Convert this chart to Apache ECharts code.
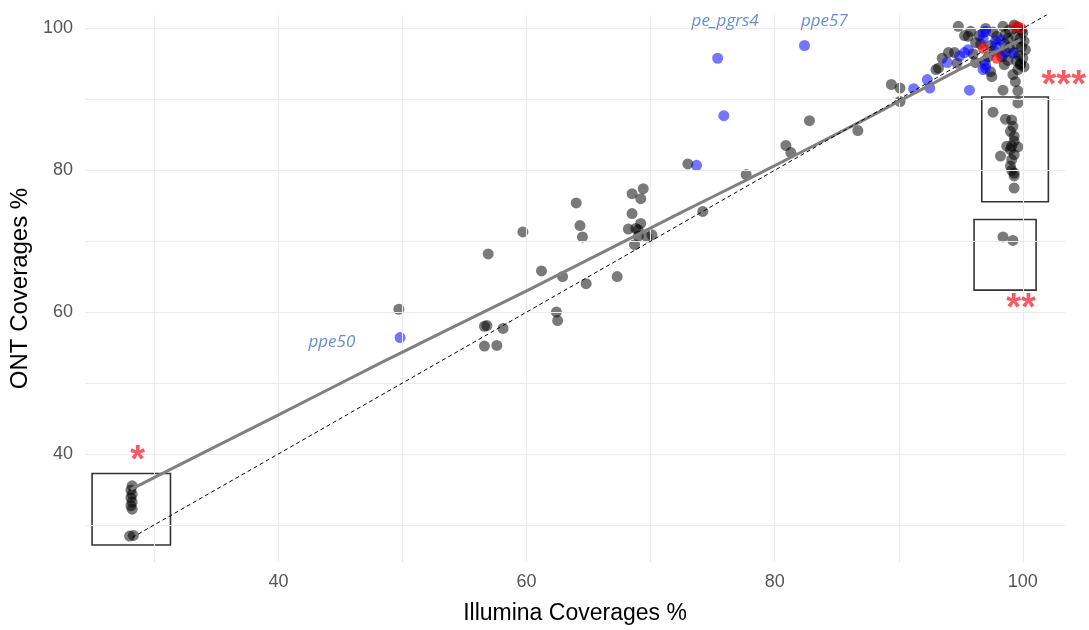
<!DOCTYPE html>
<html><head><meta charset="utf-8">
<script src="https://cdn.jsdelivr.net/npm/echarts@6/dist/echarts.min.js"></script>
<style>html,body{margin:0;padding:0;background:#fff}#c{width:1089px;height:630px}</style>
</head><body><div id="c"></div><script>
// ---- data ----
const greyPoints = [
  [28.2,35.5],[28.1,34.9],[28.2,34.3],[28.1,33.8],[28.2,33.2],[28.1,32.7],[28.2,32.2],[28.0,28.4],[28.3,28.5],
  [49.7,60.4],
  [56.6,58.0],[56.8,58.1],[58.1,57.7],[56.6,55.2],[57.6,55.3],
  [56.9,68.2],[59.7,71.3],
  [61.2,65.8],[62.9,65.0],[64.8,64.0],[67.3,65.0],
  [62.4,60.0],[62.5,58.8],
  [64.0,75.4],[64.3,72.2],[64.5,70.6],
  [68.5,76.7],[69.4,77.4],[69.2,76.0],[68.5,73.9],[68.2,71.7],[68.8,71.8],[69.0,71.6],[69.2,72.5],[69.0,70.7],[68.7,69.5],[70.1,70.9],[69.7,70.6],
  [73.0,80.9],[74.2,74.2],[77.7,79.4],[80.9,83.5],[81.3,82.5],[82.8,87.0],[86.7,85.6],
  [89.4,92.1],[90.1,91.6],[90.1,89.7],
  [93.0,94.2],[93.2,94.4],[93.5,95.8],[94.0,96.6],[94.5,96.6],[94.7,95.1],[94.8,100.3],[95.3,99.0],[95.6,98.9],[96.2,95.2],[97.4,93.9],[98.4,100.3],[97.5,93.2],
  [99.3,100.5],[99.6,100.2],[99.9,99.8],[100.0,99.4],[99.4,99.0],[99.8,98.6],[100.1,98.2],[99.5,97.8],[99.9,97.4],[100.2,97.0],[99.3,96.6],[99.7,96.2],[100.0,95.8],[99.5,95.4],[99.8,95.0],[100.1,94.6],[99.6,94.2],
  [98.9,99.8],[98.6,99.2],[98.8,98.6],[98.5,97.9],[98.9,97.3],[98.6,96.7],[98.3,96.0],[98.8,95.5],[98.5,94.9],
  [97.6,99.5],[97.9,98.9],[97.4,97.6],[97.7,96.8],[97.2,96.0],[96.9,95.4],[96.6,97.8],[96.5,99.0],[97.0,100.0],
  [96.2,98.0],[96.0,96.4],[95.8,99.6],
  [99.8,94.9],[99.2,93.5],[99.4,92.5],[99.6,91.2],[98.4,91.3],[99.6,89.5],
  [97.6,88.2],[98.6,87.2],[99.1,87.1],[99.2,86.2],[99.0,85.5],[99.3,84.8],[99.3,84.1],[99.1,83.4],[99.6,83.3],[99.0,82.9],[99.3,82.2],[99.1,81.5],[99.0,80.6],[99.3,79.6],[99.3,79.2],[99.1,80.0],[98.2,82.0],[98.7,83.4],[99.3,77.5],
  [98.4,70.6],[99.2,70.1]
];
const bluePoints = [
  [49.8,56.4],[73.7,80.7],[75.4,95.8],[75.9,87.7],[82.4,97.6],
  [91.2,91.5],[92.3,92.8],[92.5,91.6],[93.9,95.2],[95.7,91.3],[95.3,96.6],[96.8,99.4],[97.0,94.4],[96.8,94.2],
  [97.8,98.2],[97.0,99.6],[96.8,98.6],[98.2,98.4],[95.6,97.0],[94.9,96.1],[97.0,94.9],[98.4,96.3],[99.2,96.5],[97.8,97.5]
];
const redPoints = [[99.4,100.3],[99.8,100.1],[96.8,97.2],[97.9,95.8]];
const smoothLine = [[28.1,35.0],[40,45.5],[48.2,52.8],[60,63.0],[72.4,74.0],[77.7,78.6],[86.3,86.3],[90,89.7],[95,94.3],[99.8,98.4]];
const identityLine = [[28.2,28.2],[102.7,102.7]];
const geneLabels = [
  {name:'ppe50', value:[44.3,55.7]},
  {name:'pe_pgrs4', value:[76.0,101.0]},
  {name:'ppe57', value:[84.0,101.0]}
];
const starLabels = [
  {name:'*', value:[28.65,40.3]},
  {name:'**', value:[99.85,61.8]},
  {name:'***', value:[103.3,93.2]}
];
const boxes = [
  [[24.97,37.24],[31.29,27.14]],
  [[96.69,90.34],[102.06,75.55]],
  [[96.07,73.06],[101.07,63.10]]
];
const xTickLabels = [40,60,80,100];
const yTickLabels = [40,60,80,100];
const xGridValues = [30,40,50,60,70,80,90,100];
const yGridValues = [30,40,50,60,70,80,90,100];

// ---- chart ----
const chart = echarts.init(document.getElementById('c'), null, {renderer:'canvas'});
const tickFmt = v => (Math.abs(v % 20) < 1e-6 ? String(v) : '');
const option = {
  animation:false,
  backgroundColor:'#ffffff',
  grid:{left:85, right:24, top:15, bottom:67, containLabel:false},
  xAxis:{
    type:'value', min:24.4, max:103.4,
    name:'Illumina Coverages %', nameLocation:'middle', nameGap:40,
    nameTextStyle:{fontFamily:'Liberation Sans', fontSize:23, color:'#000'},
    axisLine:{show:false}, axisTick:{show:false}, splitLine:{show:false},
    axisLabel:{customValues:xTickLabels, formatter:tickFmt, fontFamily:'Liberation Sans', fontSize:18, color:'#555', margin:11}
  },
  yAxis:{
    type:'value', min:24.75, max:101.9,
    name:'ONT Coverages %', nameLocation:'middle', nameGap:46, nameRotate:90,
    nameTextStyle:{fontFamily:'Liberation Sans', fontSize:24, color:'#000'},
    axisLine:{show:false}, axisTick:{show:false}, splitLine:{show:false},
    axisLabel:{customValues:yTickLabels, formatter:tickFmt, fontFamily:'Liberation Sans', fontSize:18, color:'#555', margin:12}
  },
  series:[
    {type:'scatter', data:[], z:0, silent:true,
     markLine:{silent:true, symbol:['none','none'], label:{show:false}, animation:false,
       lineStyle:{color:'#ebebeb', width:1, type:'solid'},
       data:[...xGridValues.map(v=>({xAxis:v})), ...yGridValues.map(v=>({yAxis:v}))]}},
    {type:'scatter', data:[], z:1, silent:true,
     markArea:{silent:true, label:{show:false},
       itemStyle:{color:'rgba(0,0,0,0)', borderColor:'#333', borderWidth:1.6},
       data:boxes.map(b=>[{coord:b[0]},{coord:b[1]}])}},
    {type:'scatter', data:greyPoints, symbolSize:11, z:2, itemStyle:{color:'rgba(0,0,0,0.65)'}},
    {type:'scatter', data:bluePoints, symbolSize:11, z:3, itemStyle:{color:'rgba(0,0,255,0.68)'}},
    {type:'scatter', data:redPoints, symbolSize:11, z:4, itemStyle:{color:'rgba(255,0,0,0.8)'}},
    {type:'line', data:smoothLine, z:5, smooth:0.2, showSymbol:false, symbol:'none', lineStyle:{color:'#808080', width:3}},
    {type:'line', data:identityLine, z:6, showSymbol:false, symbol:'none', lineStyle:{color:'#000', width:1, type:[4,3]}},
    {type:'scatter', data:geneLabels, z:7, symbolSize:1, clip:false, itemStyle:{color:'rgba(0,0,0,0)'},
     label:{show:true, position:'inside', formatter:p=>p.name, fontFamily:'Open Sans', fontStyle:'italic', fontSize:17, color:'#4472c4'}},
    {type:'scatter', data:starLabels, z:8, symbolSize:1, clip:false, itemStyle:{color:'rgba(0,0,0,0)'},
     label:{show:true, position:'inside', offset:[0,10], formatter:p=>p.name, fontFamily:'Liberation Sans', fontWeight:'bold', fontSize:38, color:'#f2333f'}}
  ]
};
chart.setOption(option);
</script></body></html>
